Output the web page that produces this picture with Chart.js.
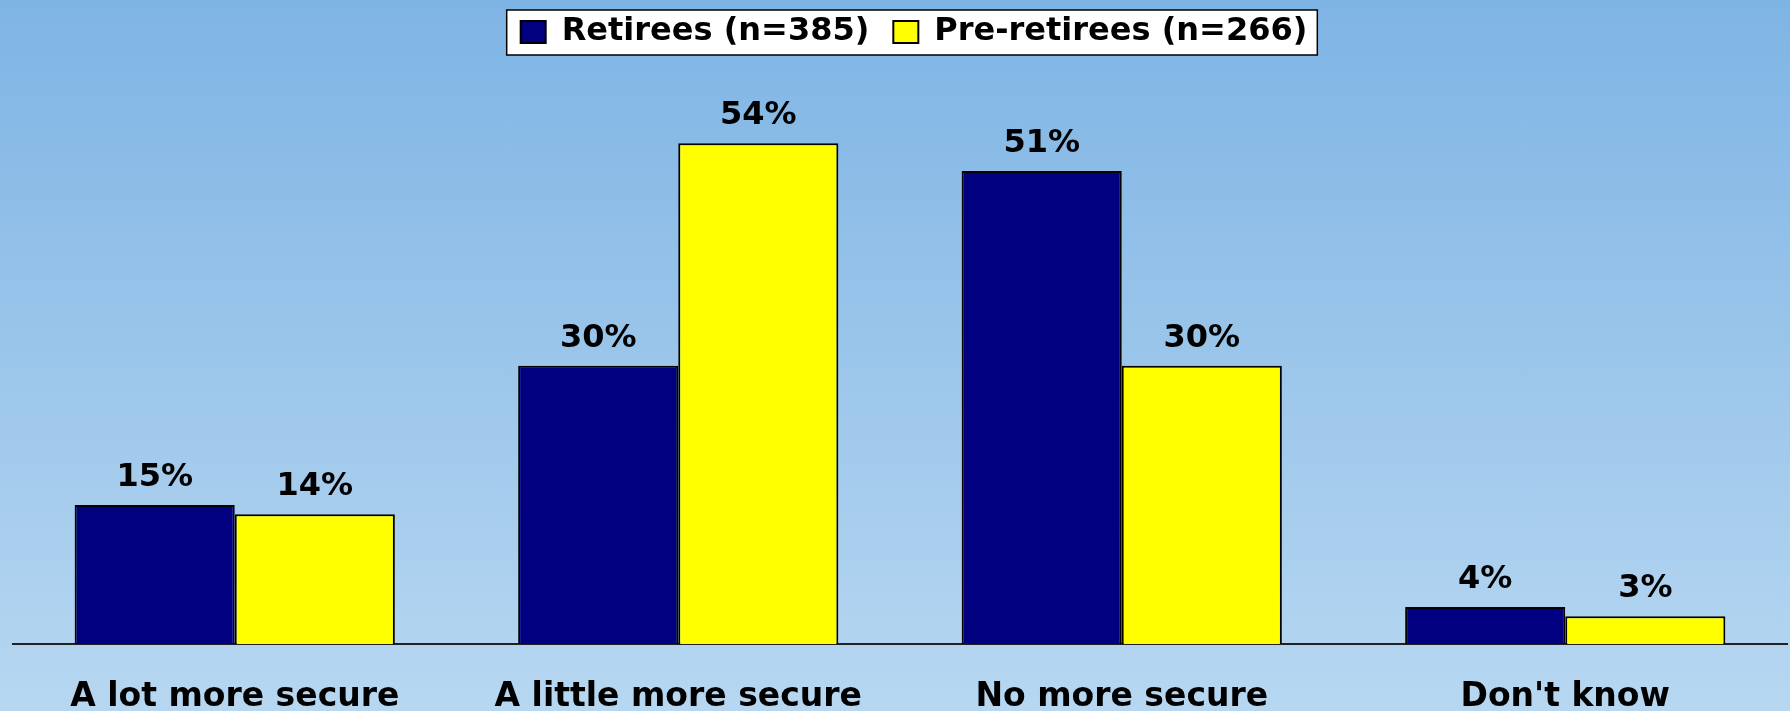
<!DOCTYPE html>
<html>
<head>
<meta charset="utf-8">
<script src="https://cdn.jsdelivr.net/npm/chart.js@4"></script>
<style>
  html, body { margin: 0; padding: 0; }
  body {
    width: 1790px;
    height: 711px;
    background: linear-gradient(to bottom, #7eb4e4 0%, #b7d7f1 100%);
    overflow: hidden;
  }
  #wrap { width: 1790px; height: 711px; }
</style>
</head>
<body>
<div id="wrap"><canvas id="chart"></canvas></div>
<script>
const categories = ['A lot more secure', 'A little more secure', 'No more secure', "Don't know"];
const retirees = [15, 30, 51, 4];
const preRetirees = [14, 54, 30, 3];
const seriesNames = ['Retirees (n=385)', 'Pre-retirees (n=266)'];

const boldFont = "'DejaVu Sans', sans-serif";

// nudge the legend row a little to the right of centre
const legendShift = {
    id: 'legendShift',
    afterLayout(chart) {
        const lg = chart.legend;
        if (!lg) return;
        const dx = 14;
        lg.left += dx;
        lg.right += dx;
        (lg.legendHitBoxes || []).forEach(hb => { hb.left += dx; });
    }
};

// white framed box behind the legend row
const legendFrame = {
    id: 'legendFrame',
    beforeDraw(chart) {
        const boxes = chart.legend && chart.legend.legendHitBoxes;
        if (!boxes || !boxes.length) return;
        const first = boxes[0];
        const last = boxes[boxes.length - 1];
        const ctx = chart.ctx;
        const left = first.left - 14;
        const right = last.left + last.width + 10;
        const top = first.top - 6;
        ctx.save();
        ctx.fillStyle = '#ffffff';
        ctx.fillRect(left, top, right - left, 45);
        ctx.strokeStyle = '#000000';
        ctx.lineWidth = 1.5;
        ctx.strokeRect(left, top, right - left, 45);
        ctx.restore();
    }
};

// percentage printed above each bar
const valueLabels = {
    id: 'valueLabels',
    afterDatasetsDraw(chart) {
        const ctx = chart.ctx;
        ctx.save();
        ctx.font = 'bold 32px ' + boldFont;
        ctx.fillStyle = '#000000';
        ctx.textAlign = 'center';
        ctx.textBaseline = 'alphabetic';
        chart.data.datasets.forEach((ds, i) => {
            chart.getDatasetMeta(i).data.forEach((bar, j) => {
                ctx.fillText(ds.data[j] + '%', bar.x, bar.y - 19);
            });
        });
        ctx.restore();
    }
};

new Chart(document.getElementById('chart'), {
    type: 'bar',
    data: {
        labels: categories,
        datasets: [{
            label: seriesNames[0],
            data: retirees,
            backgroundColor: '#000080',
            borderColor: '#000000',
            borderWidth: 2
        }, {
            label: seriesNames[1],
            data: preRetirees,
            backgroundColor: '#ffff00',
            borderColor: '#000000',
            borderWidth: 2
        }]
    },
    options: {
        responsive: true,
        maintainAspectRatio: false,
        animation: false,
        datasets: {
            bar: { categoryPercentage: 0.722, barPercentage: 1.0 }
        },
        layout: { padding: { top: -8, left: 13, right: 3, bottom: 0 } },
        plugins: {
            legend: {
                position: 'top',
                labels: {
                    color: '#000000',
                    font: { family: boldFont, size: 32, weight: 'bold' },
                    boxWidth: 25,
                    boxHeight: 22,
                    padding: 24
                }
            },
            tooltip: { enabled: false }
        },
        scales: {
            x: {
                grid: { display: false, drawTicks: false },
                border: { display: true, color: '#222222', width: 2 },
                ticks: {
                    color: '#000000',
                    font: { family: boldFont, size: 33, weight: 'bold' },
                    padding: 34,
                    maxRotation: 0,
                    autoSkip: false
                },
                afterFit(scale) { scale.height = 67; }
            },
            y: {
                display: false,
                min: 0,
                max: 63.2
            }
        }
    },
    plugins: [legendShift, legendFrame, valueLabels]
});
</script>
</body>
</html>
